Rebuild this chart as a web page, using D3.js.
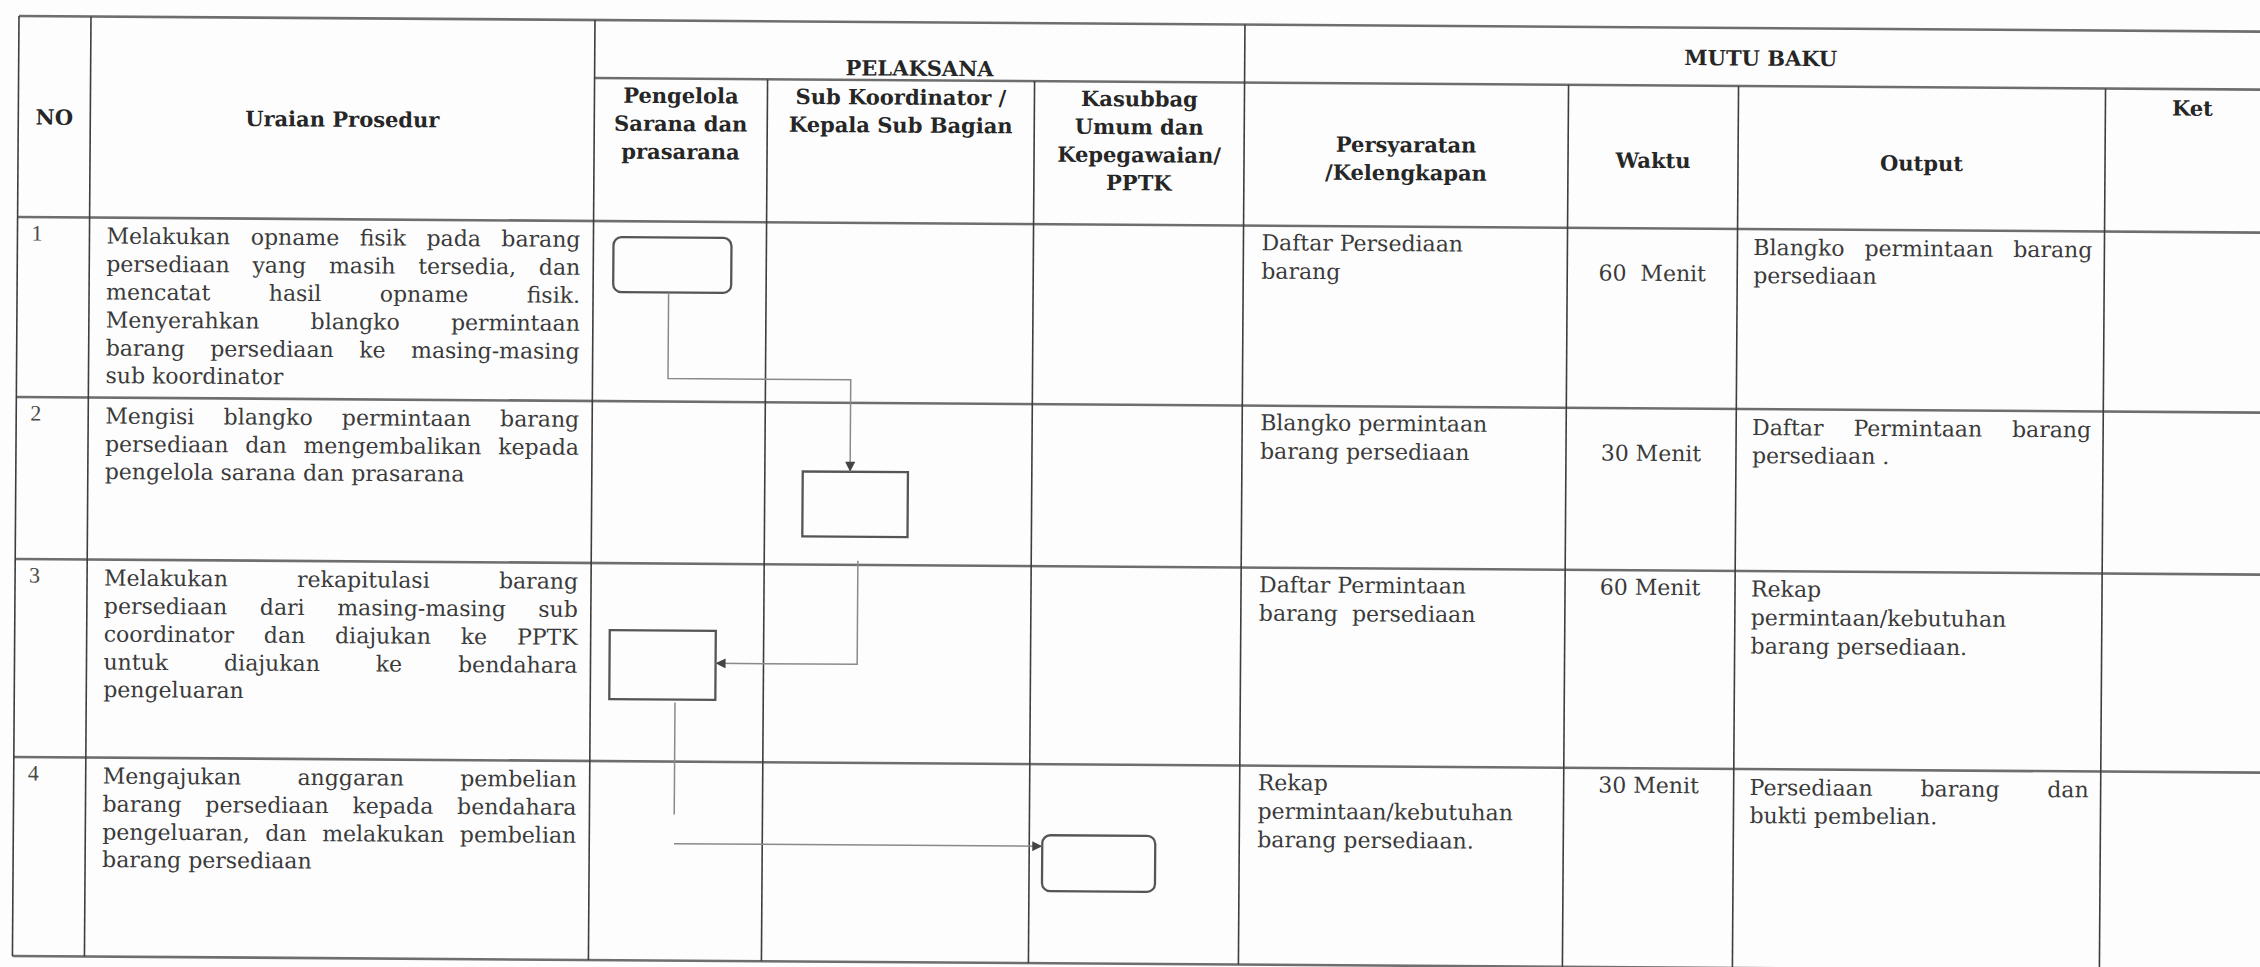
<!DOCTYPE html>
<html><head><meta charset="utf-8">
<script src="https://cdn.jsdelivr.net/npm/d3@7"></script>
<style>
html,body{margin:0;padding:0;background:#fff;}
svg{display:block;}
.hd{font-family:"DejaVu Serif",serif;font-weight:bold;font-size:21px;fill:#262626;}
.bd{font-family:"DejaVu Serif",serif;font-size:22px;fill:#3a3a3a;}
.no{font-family:"Liberation Serif",serif;font-size:22px;fill:#4a4a4a;}
</style>
</head><body>
<svg id="chart" width="2260" height="967"></svg>
<script>
// ---------------- DATA ----------------
const groupHeaders = ["PELAKSANA", "MUTU BAKU"];
const columnHeaders = [
  ["NO"], ["Uraian Prosedur"],
  ["Pengelola", "Sarana dan", "prasarana"],
  ["Sub Koordinator /", "Kepala Sub Bagian"],
  ["Kasubbag", "Umum dan", "Kepegawaian/", "PPTK"],
  ["Persyaratan", "/Kelengkapan"], ["Waktu"], ["Output"], ["Ket"]
];
const stepNumbers = ["1", "2", "3", "4"];
const procedures = [
  ["Melakukan opname fisik pada barang", "persediaan yang masih tersedia, dan", "mencatat hasil opname fisik.",
   "Menyerahkan blangko permintaan", "barang persediaan ke masing-masing", "sub koordinator"],
  ["Mengisi blangko permintaan barang", "persediaan dan mengembalikan kepada", "pengelola sarana dan prasarana"],
  ["Melakukan rekapitulasi barang", "persediaan dari masing-masing sub", "coordinator dan diajukan ke PPTK",
   "untuk diajukan ke bendahara", "pengeluaran"],
  ["Mengajukan anggaran pembelian", "barang persediaan kepada bendahara", "pengeluaran, dan melakukan pembelian",
   "barang persediaan"]
];
const requirements = [
  ["Daftar Persediaan", "barang"],
  ["Blangko permintaan", "barang persediaan"],
  ["Daftar Permintaan", "barang  persediaan"],
  ["Rekap", "permintaan/kebutuhan", "barang persediaan."]
];
const durations = [["", "60  Menit"], ["", "30 Menit"], ["60 Menit"], ["30 Menit"]];
const outputs = [
  ["Blangko permintaan barang", "persediaan"],
  ["Daftar Permintaan barang", "persediaan ."],
  ["Rekap", "permintaan/kebutuhan", "barang persediaan."],
  ["Persediaan barang dan", "bukti pembelian."]
];
const notes = ["", "", "", ""];
const stepLane = [0, 1, 0, 2];              // executor lane of each step
const stepShape = ["terminator", "process", "process", "terminator"];

// ---------------- LAYOUT ----------------
const W = 2260, H = 967;
const colEdges = [19, 91, 595, 768, 1035, 1245, 1569, 1739, 2106, 2280];
const rowEdges = [16, 217, 397, 559, 757, 956];
const groupLineY = 74;
const x = d3.scaleLinear().domain(d3.range(colEdges.length)).range(colEdges);
const y = d3.scaleLinear().domain(d3.range(rowEdges.length)).range(rowEdges);
const laneCol = l => 2 + l;
// node box within its cell, as fractions of the cell
const nodeFrac = [
  {fx0: 0.116, fx1: 0.798, fy0: 0.089, fy1: 0.394},
  {fx0: 0.142, fx1: 0.536, fy0: 0.426, fy1: 0.827},
  {fx0: 0.110, fx1: 0.723, fy0: 0.338, fy1: 0.687},
  {fx0: 0.062, fx1: 0.600, fy0: 0.357, fy1: 0.638}
];

const svg = d3.select("#chart");
svg.append("rect").attr("width", W).attr("height", H).attr("fill", "#fdfdfd");
const g = svg.append("g").attr("transform", "rotate(0.4,20,16)");

// arrow marker
svg.append("defs").append("marker").attr("id", "arr")
  .attr("viewBox", "0 0 10 10").attr("refX", 10).attr("refY", 5)
  .attr("markerWidth", 11).attr("markerHeight", 10).attr("markerUnits", "userSpaceOnUse")
  .attr("orient", "auto")
  .append("path").attr("d", "M0,0 L10,5 L0,10 Z").attr("fill", "#444");

// ---------------- GRID ----------------
const hLine = (x0, x1, yy) => g.append("line").attr("x1", x0).attr("x2", x1).attr("y1", yy).attr("y2", yy)
  .attr("stroke", "#6e6e6e").attr("stroke-width", 2.6);
const vLine = (xx, y0, y1) => g.append("line").attr("x1", xx).attr("x2", xx).attr("y1", y0).attr("y2", y1)
  .attr("stroke", "#3e3e3e").attr("stroke-width", 1.6);

rowEdges.forEach(r => hLine(x(0), x(9), r));
hLine(x(2), x(9), groupLineY);
[0, 1, 2, 5].forEach(c => vLine(x(c), y(0), y(5)));
[3, 4, 6, 7, 8].forEach(c => vLine(x(c), groupLineY, y(5)));

// ---------------- HEADERS ----------------
g.append("text").attr("class", "hd").attr("text-anchor", "middle").attr("dominant-baseline", "central")
  .attr("x", (x(2) + x(5)) / 2).attr("y", 62).text(groupHeaders[0]);
g.append("text").attr("class", "hd").attr("text-anchor", "middle").attr("dominant-baseline", "central")
  .attr("x", 1761).attr("y", 46).text(groupHeaders[1]);

const headerTop = [117, 117, 91, 91, 91, 135, 149, 150, 93];
columnHeaders.forEach((lines, c) => {
  lines.forEach((ln, i) => {
    g.append("text").attr("class", "hd").attr("text-anchor", "middle").attr("dominant-baseline", "central")
      .attr("x", c === 8 ? 2193 : x(c + 0.5)).attr("y", headerTop[c] + i * 28).text(ln);
  });
});

// ---------------- BODY TEXT ----------------
function textLine(str, x0, x1, yy, justify, cls) {
  const words = str.split(" ").filter(w => w.length);
  if (!justify || words.length < 2) {
    g.append("text").attr("class", cls).attr("x", x0).attr("y", yy)
      .attr("dominant-baseline", "central").style("white-space", "pre").text(str);
    return;
  }
  const t = g.append("text").attr("class", cls).attr("y", yy).attr("dominant-baseline", "central");
  const spans = words.map(w => t.append("tspan").text(w));
  const widths = spans.map(s => s.node().getComputedTextLength());
  const gap = (x1 - x0 - d3.sum(widths)) / (words.length - 1);
  let cx = x0;
  spans.forEach((s, i) => { s.attr("x", cx); cx += widths[i] + gap; });
}
function paragraph(lines, x0, x1, yTop, lh, justify) {
  lines.forEach((ln, i) => textLine(ln, x0, x1, yTop + i * lh, justify && i < lines.length - 1, "bd"));
}

stepNumbers.forEach((n, r) => {
  const top = y(r + 1);
  g.append("text").attr("class", "no").attr("x", 33).attr("y", top + 16)
    .attr("dominant-baseline", "central").text(n);
  paragraph(procedures[r], x(1) + 17, x(2) - 13, top + 18, 28, true);
  paragraph(requirements[r], x(5) + 18, x(6) - 10, top + 17, 28.5, false);
  durations[r].forEach((ln, i) => {
    g.append("text").attr("class", "bd").attr("text-anchor", "middle").attr("dominant-baseline", "central")
      .style("white-space", "pre").attr("x", x(6.5)).attr("y", top + 17 + i * 28).text(ln);
  });
  paragraph(outputs[r], x(7) + 16, x(8) - 12, top + 18, 28.5, true);
  textLine(notes[r], x(8) + 16, x(9) - 12, top + 18, false, "bd");
});

// ---------------- FLOWCHART ----------------
const nodes = stepLane.map((l, i) => {
  const c = laneCol(l), f = nodeFrac[i];
  const x0 = x(c + f.fx0), x1 = x(c + f.fx1);
  const y0 = y(i + 1 + f.fy0), y1 = y(i + 1 + f.fy1);
  return {x0, x1, y0, y1, shape: stepShape[i]};
});
g.selectAll("rect.node").data(nodes).join("rect").attr("class", "node")
  .attr("x", d => d.x0).attr("y", d => d.y0)
  .attr("width", d => d.x1 - d.x0).attr("height", d => d.y1 - d.y0)
  .attr("rx", d => d.shape === "terminator" ? 8 : 0)
  .attr("fill", "none").attr("stroke", "#555").attr("stroke-width", 2.3);

const lw = d3.line();
const conn = (pts, arrow) => g.append("path").attr("d", lw(pts)).attr("fill", "none")
  .attr("stroke", "#8a8a8a").attr("stroke-width", 1.5)
  .attr("marker-end", arrow ? "url(#arr)" : null);
const at = (n, fx) => n.x0 + fx * (n.x1 - n.x0);
const [n1, n2, n3, n4] = nodes;
// step 1 -> step 2
const c1x = at(n1, 0.47), c1y = y(1 + 0.872), c1x2 = at(n2, 0.45);
conn([[c1x, n1.y1], [c1x, c1y], [c1x2, c1y], [c1x2, n2.y0]], true);
// step 2 -> step 3
const c2x = at(n2, 0.53), c2y = (n3.y0 + n3.y1) / 2 - 2;
conn([[c2x, y(3) - 4], [c2x, c2y], [n3.x1, c2y]], true);
// step 3 -> step 4
const c3x = at(n3, 0.62);
conn([[c3x, n3.y1 + 3], [c3x, y(4 + 0.266)]], false);
const c4y = n4.y0 + 11;
conn([[c3x, c4y], [n4.x0, c4y]], true);
</script>
</body></html>
